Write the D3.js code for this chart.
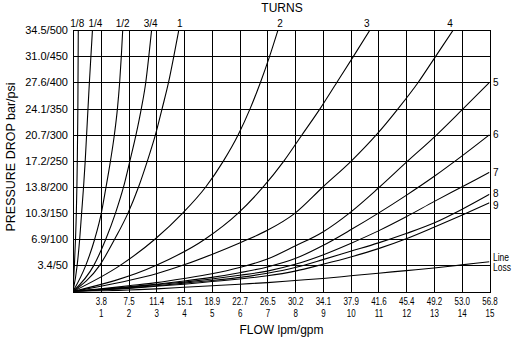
<!DOCTYPE html>
<html>
<head>
<meta charset="utf-8">
<script src="https://cdn.jsdelivr.net/npm/d3@7"></script>
<style>
  html, body { margin: 0; padding: 0; background: #fff; }
  svg { display: block; font-family: "Liberation Sans", Arial, Helvetica, sans-serif; }
</style>
</head>
<body>
<svg id="chart" width="520" height="341"></svg>
<script>
// Axis ticks
const gpmTicks = [1, 2, 3, 4, 5, 6, 7, 8, 9, 10, 11, 12, 13, 14, 15];
const lpmLabels = ["3.8", "7.5", "11.4", "15.1", "18.9", "22.7", "26.5", "30.2",
                   "34.1", "37.9", "41.6", "45.4", "49.2", "53.0", "56.8"];
const psiTicks = [50, 100, 150, 200, 250, 300, 350, 400, 450, 500];
const barLabels = ["3.4", "6.9", "10.3", "13.8", "17.2", "20.7", "24.1", "27.6", "31.0", "34.5"];

// Low-turn settings: flow (gpm) reached at each pressure step (psi)
const psiSteps = [0, 50, 100, 150, 200, 250, 300, 350, 400, 450, 500];
const flowTurn1_8 = [0, 0.05, 0.09, 0.12, 0.14, 0.155, 0.165, 0.175, 0.18, 0.185, 0.19];
const flowTurn1_4 = [0, 0.15, 0.24, 0.31, 0.38, 0.44, 0.49, 0.54, 0.59, 0.645, 0.70];
const flowTurn1_2 = [0, 0.46, 0.78, 1.02, 1.19, 1.35, 1.49, 1.60, 1.68, 1.74, 1.79];
const flowTurn3_4 = [0, 0.75, 1.18, 1.53, 1.82, 2.05, 2.27, 2.46, 2.62, 2.73, 2.83];
const flowTurn1   = [0, 0.96, 1.50, 1.98, 2.36, 2.68, 2.97, 3.21, 3.44, 3.63, 3.81];
const flowTurn2   = [0, 1.70, 2.95, 3.95, 4.78, 5.42, 5.95, 6.38, 6.75, 7.08, 7.38];
const flowTurn3   = [0, 3.00, 4.75, 5.95, 6.85, 7.60, 8.25, 8.90, 9.50, 10.10, 10.69];

// 4 turns: flow / pressure pairs
const flowTurn4 = [0, 1, 2, 3, 4, 5, 6, 7, 8, 9, 10.03, 10.93, 11.71, 12.43, 13.06, 13.69];
const psiTurn4  = [0, 10, 21, 34, 51, 71, 93, 117, 150, 200, 250, 300, 350, 400, 450, 500];

// Open settings and line loss: pressure (psi) at each whole gpm
const gpmSteps = [0, 1, 2, 3, 4, 5, 6, 7, 8, 9, 10, 11, 12, 13, 14, 15];
const psiTurn5 = [0, 5, 11, 17, 25, 34, 46, 62, 87, 114, 152, 198, 247, 295, 347, 400];
const psiTurn6 = [0, 4, 9, 14, 20, 27, 36, 47, 63, 88, 118, 150, 184, 220, 259, 300];
const psiTurn7 = [0, 4, 8, 13, 18, 24, 31, 39, 52, 70, 92, 116, 143, 172, 200, 228];
const psiTurn8 = [0, 3, 7, 11, 16, 21, 27, 35, 46, 61, 77, 93, 111, 131, 157, 186];
const psiTurn9 = [0, 3, 6, 10, 14, 19, 24, 30, 39, 52, 66, 82, 101, 123, 146, 170];
const psiLineLoss = [0, 1, 3, 5, 8, 11, 14, 17, 21, 25, 30, 35, 40, 45, 51, 57];

const zip = (fx, fy) => fx.map((v, i) => [v, fy[i]]);

const topCurves = [
  { label: "1/8", dx: -1, pts: zip(flowTurn1_8, psiSteps) },
  { label: "1/4", dx: 3,  pts: zip(flowTurn1_4, psiSteps) },
  { label: "1/2", dx: 0,  pts: zip(flowTurn1_2, psiSteps) },
  { label: "3/4", dx: -1, pts: zip(flowTurn3_4, psiSteps) },
  { label: "1",   dx: 1,  pts: zip(flowTurn1, psiSteps) },
  { label: "2",   dx: 2,  pts: zip(flowTurn2, psiSteps) },
  { label: "3",   dx: -3, pts: zip(flowTurn3, psiSteps) },
  { label: "4",   dx: -3, pts: zip(flowTurn4, psiTurn4) }
];
const sideCurves = [
  { label: ["5"], dy: 0, pts: zip(gpmSteps, psiTurn5) },
  { label: ["6"], dy: 0, pts: zip(gpmSteps, psiTurn6) },
  { label: ["7"], dy: 0, pts: zip(gpmSteps, psiTurn7) },
  { label: ["8"], dy: -1, pts: zip(gpmSteps, psiTurn8) },
  { label: ["9"], dy: 3, pts: zip(gpmSteps, psiTurn9) },
  { label: ["Line", "Loss"], dy: 1, pts: zip(gpmSteps, psiLineLoss) }
];

const svg = d3.select("#chart");
const plot = { left: 73, right: 489.5, top: 30.2, bottom: 291.5 };

const x = d3.scaleLinear().domain([0, 15]).range([plot.left, plot.right]);
const y = d3.scaleLinear().domain([0, 500]).range([plot.bottom, plot.top]);

svg.append("rect").attr("width", 520).attr("height", 341).attr("fill", "#fff");

svg.append("clipPath").attr("id", "plotClip")
  .append("rect")
  .attr("x", plot.left).attr("y", plot.top)
  .attr("width", plot.right - plot.left).attr("height", plot.bottom - plot.top);

// Vertical grid + two-line flow labels (lpm over gpm)
const xAxis = svg.append("g")
  .attr("transform", `translate(0,${plot.bottom})`)
  .call(d3.axisBottom(x).tickValues(gpmTicks)
        .tickSize(-(plot.bottom - plot.top)).tickFormat(""));
xAxis.select(".domain").remove();
xAxis.selectAll(".tick line").attr("stroke", "#000").attr("stroke-width", 1)
  .attr("shape-rendering", "crispEdges");
xAxis.selectAll(".tick text").remove();
xAxis.selectAll(".tick").each(function (d, i) {
  const g = d3.select(this).append("g").attr("transform", "scale(0.76,1)");
  g.append("text").attr("y", 14).attr("text-anchor", "middle")
    .attr("font-size", 10.5).attr("fill", "#000").text(lpmLabels[i]);
  g.append("text").attr("y", 25.7).attr("text-anchor", "middle")
    .attr("font-size", 10.5).attr("fill", "#000").text(d);
});

// Horizontal grid + pressure labels
const yAxis = svg.append("g")
  .attr("transform", `translate(${plot.left},0)`)
  .call(d3.axisLeft(y).tickValues(psiTicks)
        .tickSize(-(plot.right - plot.left)).tickPadding(5)
        .tickFormat((d, i) => barLabels[i] + "/" + d));
yAxis.select(".domain").remove();
yAxis.selectAll(".tick line").attr("stroke", "#000").attr("stroke-width", 1)
  .attr("shape-rendering", "crispEdges");
yAxis.selectAll(".tick text").attr("font-size", 11).attr("fill", "#000")
  .attr("font-family", "'Liberation Sans', Arial, sans-serif");

// Frame
svg.append("rect")
  .attr("x", plot.left + 0.5).attr("y", plot.top + 0.5)
  .attr("width", plot.right - plot.left).attr("height", plot.bottom - plot.top)
  .attr("fill", "none").attr("stroke", "#000").attr("stroke-width", 1)
  .attr("shape-rendering", "crispEdges");

// Curves
const line = d3.line()
  .x(d => x(d[0]))
  .y(d => y(d[1]))
  .curve(d3.curveMonotoneX);

const curves = svg.append("g").attr("clip-path", "url(#plotClip)");
[...topCurves, ...sideCurves].forEach(c => {
  curves.append("path")
    .attr("d", line(c.pts))
    .attr("fill", "none")
    .attr("stroke", "#000")
    .attr("stroke-width", 1.1)
    .attr("stroke-linejoin", "round");
});

// Turn labels above the frame
svg.append("g").selectAll("text")
  .data(topCurves)
  .join("text")
  .attr("x", d => x(d.pts[d.pts.length - 1][0]) + d.dx)
  .attr("y", 26.5)
  .attr("text-anchor", "middle")
  .attr("font-size", 10)
  .attr("fill", "#000")
  .text(d => d.label);

// Labels at the right edge
sideCurves.forEach(c => {
  const end = c.pts[c.pts.length - 1];
  const cy = y(end[1]) + c.dy;
  const n = c.label.length;
  const t = svg.append("text")
    .attr("transform", `translate(493,${cy})` + (n > 1 ? " scale(0.85,1)" : ""))
    .attr("font-size", 10)
    .attr("fill", "#000");
  c.label.forEach((s, i) => {
    t.append("tspan")
      .attr("x", 0)
      .attr("y", (i - (n - 1) / 2) * 10.5)
      .attr("dy", "0.35em")
      .text(s);
  });
});

// Titles
svg.append("text")
  .attr("x", 282).attr("y", 12)
  .attr("text-anchor", "middle").attr("font-size", 12).attr("fill", "#000")
  .text("TURNS");

svg.append("text")
  .attr("x", 281.5).attr("y", 334)
  .attr("text-anchor", "middle").attr("font-size", 12).attr("fill", "#000")
  .text("FLOW lpm/gpm");

svg.append("text")
  .attr("transform", "translate(14.5,157) rotate(-90)")
  .attr("text-anchor", "middle").attr("font-size", 12.5).attr("fill", "#000")
  .text("PRESSURE DROP bar/psi");
</script>
</body>
</html>
